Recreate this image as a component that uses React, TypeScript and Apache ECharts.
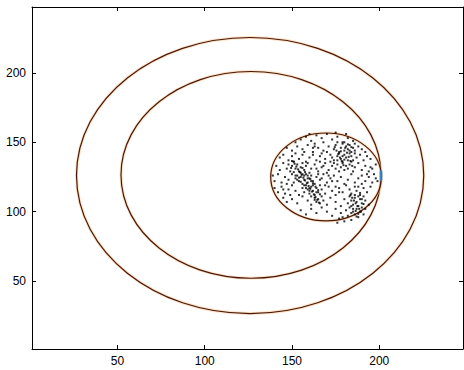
import React, { useEffect, useRef } from "react";
import * as echarts from "echarts";

// Axis ranges and tick labels
const xRange = [1, 248];
const yRange = [1, 247.5];
const xTicks = [50, 100, 150, 200];
const yTicks = [50, 100, 150, 200];

// Circles: [centerX, centerY, radius]
const circles = [
  [126, 126, 99.5],
  [126.5, 126.5, 74.5],
  [169.5, 125, 31.7],
];

// Blue marker
const marker = [[201, 126]];

// Scattered particles inside the small circle
const particles = [
  [155,152],[158,154],[161,151],[164,155],[167,153],[170,156],[173,152],[176,154],[179,150],[182,153],[185,151],[160,156],[168,150],[175,157],[152,150],[181,156],[186,149],[163,149],
  [147,146],[150,144],[153,147],[156,145],[159,148],[162,143],[165,146],[168,144],[171,147],[174,145],[175,148],[177,143],[178,146],[179,149],[180,144],[181,147],[182,145],[183,148],[184,143],[185,146],[186,144],[188,147],[190,145],[192,143],[157,143],[163,147],[170,143],[176,150],[180,150],[183,144],
  [143,139],[145,141],[148,137],[150,140],[152,142],[154,138],[156,141],[158,136],[160,139],[162,141],[164,137],[166,140],[169,138],[172,141],[174,137],[176,140],[177,142],[178,138],[179,136],[180,141],[181,139],[182,137],[183,142],[184,140],[185,137],[187,139],[189,141],[191,137],[193,140],[195,138],[151,136],[167,142],[173,139],[186,142],[179,140],[184,136],
  [141,133],[143,130],[145,135],[147,131],[148,134],[149,129],[150,133],[151,136],[152,131],[153,134],[154,129],[155,132],[156,135],[157,130],[158,133],[160,128],[161,131],[163,134],[165,129],[167,132],[169,135],[171,130],[173,133],[175,131],[176,134],[177,129],[178,132],[179,135],[180,130],[181,133],[182,131],[183,134],[185,129],[186,132],[188,135],[190,130],[192,133],[194,129],[196,131],[198,134],[159,135],[164,131],[170,128],[174,135],
  [139,126],[140,122],[142,127],[144,121],[146,125],[148,123],[150,127],[151,121],[152,124],[153,126],[154,122],[155,125],[156,120],[157,123],[158,127],[159,121],[160,124],[161,126],[162,122],[163,120],[164,125],[166,123],[168,127],[170,121],[172,124],[174,126],[176,122],[178,125],[180,120],[182,123],[184,127],[186,121],[188,124],[190,126],[192,122],[194,125],[196,121],[198,124],[155,128],[157,126],[159,124],[161,122],[153,123],[156,127],
  [140,117],[142,114],[144,118],[146,113],[148,116],[150,119],[152,115],[154,112],[156,117],[157,114],[158,119],[159,116],[160,113],[161,118],[162,115],[163,112],[164,117],[165,114],[166,119],[167,116],[169,113],[171,118],[173,115],[175,112],[177,117],[179,114],[181,119],[183,116],[184,113],[186,118],[187,115],[189,112],[191,117],[193,114],[195,118],[162,119],[160,117],[164,114],
  [145,110],[147,107],[150,109],[153,106],[156,111],[159,108],[161,105],[163,110],[164,107],[165,109],[166,106],[167,111],[168,108],[170,105],[172,110],[175,107],[178,104],[180,109],[182,106],[183,111],[184,108],[185,105],[186,110],[187,107],[188,104],[189,109],[190,106],[191,111],[192,108],[194,105],[186,112],[188,111],[184,104],
  [155,101],[158,98],[161,102],[164,99],[167,103],[170,100],[173,97],[175,102],[177,95],[178,99],[180,93],[181,101],[182,97],[183,103],[184,94],[185,100],[186,98],[187,102],[188,96],[189,100],[190,103],[191,98],[179,96],[176,92],
  // denser clusters
  [150,136.5],[151.5,134.5],[152.5,132.5],[153.5,130.5],[154.5,128.5],[155.5,126.5],[156.5,124.5],[157.5,122.5],[158.5,120.5],[159.5,118.5],[160.5,116.5],[161.5,114.5],[162.5,112.5],[163.5,110.5],[164.5,108.5],[165.5,106.5],
  [149.5,131.5],[151,128.5],[152,126],[154,124.5],[155,121.5],[157,119],[158,117],[160,115],[161,111],[163,108.5],[156,131.5],[157.5,128.5],[159,126],[160.5,123.5],[162,120.5],[163.5,118],[165,115.5],[166,112.5],
  [174.5,146.5],[175.5,144],[176.5,141.5],[177.5,139],[178.5,136.5],[179.5,133.5],[180.5,146],[181.5,142.5],[182.5,139.5],[183.5,136.5],[184.5,133],[180,137.5],[178,143.5],[182,148.5],[176,137],[184,146.5],
  [183.5,112],[184.5,110],[185.5,108],[186.5,106],[187.5,104],[188.5,102],[189.5,100],[185,102],[186.5,100.5],[188,98.5],[190,109],[191,105.5],[189,113.5],[192,102],[184,99],[187,96.5],
  [171,126],[173,122],[175,118],[177,114],[169,119],[167,124],[165,127],[147,120],[145,116],[149,112],[188,118],[190,120],[193,127],[195,132],[197,127],[199,122],[168,133],[166,136],[172,136],[162,146],
];

const labelFont = {
  fontFamily: "Liberation Sans, Arial, sans-serif",
  fontSize: 12,
  color: "#000",
};

function axisBase(min: number, max: number, ticks: number[], show: boolean, pos: string) {
  return {
    type: "value",
    position: pos,
    min,
    max,
    axisLine: { show: true, onZero: false, lineStyle: { color: "#000", width: 1 } },
    axisTick: {
      show: true,
      inside: true,
      length: 4,
      customValues: ticks,
      lineStyle: { color: "#000", width: 1 },
    },
    axisLabel: { show, customValues: ticks, margin: 6, ...labelFont },
    splitLine: { show: false },
  };
}

export default function App() {
  const ref = useRef<HTMLDivElement>(null);
  useEffect(() => {
    if (!ref.current) return;
    const chart = echarts.init(ref.current, undefined, { renderer: "svg" });
    chart.setOption({
      animation: false,
      backgroundColor: "#fff",
      grid: { left: 32, top: 7, right: 1, bottom: 21, containLabel: false },
      xAxis: [
        axisBase(xRange[0], xRange[1], xTicks, true, "bottom"),
        axisBase(xRange[0], xRange[1], xTicks, false, "top"),
      ],
      yAxis: [
        axisBase(yRange[0], yRange[1], yTicks, true, "left"),
        axisBase(yRange[0], yRange[1], yTicks, false, "right"),
      ],
      series: [
        {
          type: "custom",
          xAxisIndex: 0,
          yAxisIndex: 0,
          data: circles,
          renderItem: (params: any, api: any) => {
            const c = api.coord([api.value(0), api.value(1)]);
            const s = api.size([api.value(2), api.value(2)]);
            const shape = { cx: c[0], cy: c[1], rx: s[0], ry: s[1] };
            return {
              type: "group",
              children: [
                {
                  type: "ellipse",
                  shape,
                  style: { fill: "none", stroke: "#f9c488", lineWidth: 3, opacity: 0.5 },
                },
                {
                  type: "ellipse",
                  shape,
                  style: { fill: "none", stroke: "#4a170b", lineWidth: 1.2 },
                },
              ],
            };
          },
        },
        {
          type: "scatter",
          xAxisIndex: 0,
          yAxisIndex: 0,
          data: particles,
          symbol: "rect",
          symbolSize: 2,
          itemStyle: { color: "#000" },
        },
        {
          type: "scatter",
          xAxisIndex: 0,
          yAxisIndex: 0,
          data: marker,
          symbol: "roundRect",
          symbolSize: [3, 11],
          itemStyle: { color: "#2f8fd2" },
        },
      ],
    });
    return () => chart.dispose();
  }, []);
  return (
    <div
      ref={ref}
      style={{ position: "absolute", left: 0, top: 0, width: 464, height: 370, background: "#fff" }}
    />
  );
}
